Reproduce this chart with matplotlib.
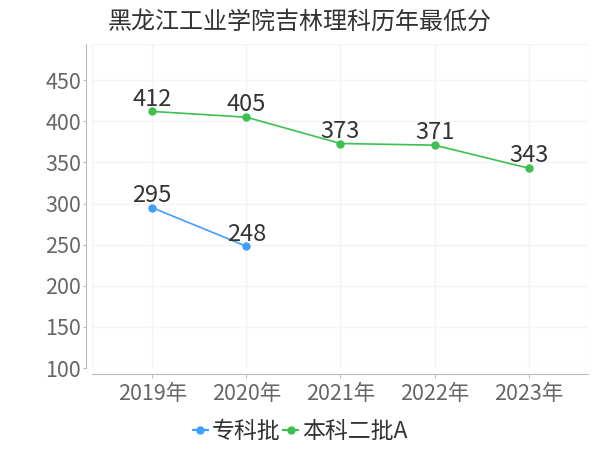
import matplotlib
matplotlib.use("Agg")
import matplotlib.pyplot as plt
from matplotlib.lines import Line2D

plt.rcParams['font.family'] = ['Noto Sans CJK SC', 'DejaVu Sans']

title = "黑龙江工业学院吉林理科历年最低分"
years = ["2019年", "2020年", "2021年", "2022年", "2023年"]
zk_name = "专科批"
zk_vals = [295, 248]
bk_name = "本科二批A"
bk_vals = [412, 405, 373, 371, 343]
yticks = [100, 150, 200, 250, 300, 350, 400, 450]

blue = "#409EFF"
green = "#3CC04F"

fig = plt.figure(figsize=(6, 4.5), dpi=100)
ax = fig.add_axes([92/600, 1-368/450, (588-92)/600, (368-44)/450])

x_all = list(range(len(years)))
ax.plot(x_all[:len(zk_vals)], zk_vals, color=blue, lw=1.2, marker='o', ms=5, zorder=3)
ax.plot(x_all[:len(bk_vals)], bk_vals, color=green, lw=1.2, marker='o', ms=5, zorder=3)

for xs, vs in ((x_all, zk_vals), (x_all, bk_vals)):
    for xi, v in zip(xs, vs):
        ax.annotate(str(v), (xi, v), xytext=(0, 0.5), textcoords='offset points',
                    ha='center', va='bottom', fontsize=17, color='#333333', zorder=4)

ax.set_xlim(-0.64, 4.63)
ax.set_ylim(100, 494)
ax.set_xticks(x_all)
ax.set_xticklabels(years)
ax.set_yticks(yticks)
ax.tick_params(axis='both', labelsize=15.5, labelcolor='#666666', color='#bbbbbb', length=3)
ax.tick_params(axis='y', length=2, pad=2)

# grid
for xv in [-0.64] + x_all + [4.63]:
    ax.axvline(xv, color='#f4f4f4', lw=1, zorder=0)
for yv in yticks + [494]:
    ax.axhline(yv, color='#f4f4f4', lw=1, zorder=0)

for s in ['top', 'right']:
    ax.spines[s].set_visible(False)
ax.spines['left'].set_position(('outward', 4))
ax.spines['bottom'].set_position(('outward', 4))
ax.spines['left'].set_color('#bbbbbb')
ax.spines['bottom'].set_color('#bbbbbb')

fig.text(0.5, 1-22/450, title, ha='center', va='center', fontsize=17.3, color='#333333')

handles = [Line2D([0], [0], color=blue, lw=1.5, marker='o', ms=5),
           Line2D([0], [0], color=green, lw=1.5, marker='o', ms=5)]
fig.legend(handles, [zk_name, bk_name], loc='center', bbox_to_anchor=(0.5, 1-432/450),
           ncol=2, frameon=False, fontsize=16.5, handlelength=0.65, handletextpad=0.15,
           columnspacing=0.15, labelcolor='#333333')

fig.savefig("out.png", dpi=100)
